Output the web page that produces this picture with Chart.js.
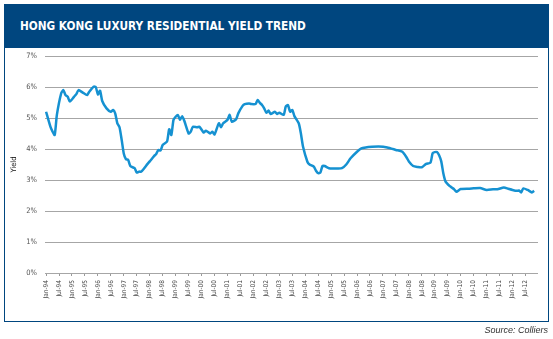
<!DOCTYPE html>
<html>
<head>
<meta charset="utf-8">
<script src="https://cdn.jsdelivr.net/npm/chart.js@4"></script>
<style>
  body { margin: 0; width: 553px; height: 339px; background: #fff; position: relative; overflow: hidden; }
  #frame { position: absolute; left: 4px; top: 4px; width: 545px; height: 318px; box-sizing: border-box; border: 1.5px solid #00467f; }
  #header { position: absolute; left: 4px; top: 4px; width: 545px; height: 44px; background: #00467f; }
  #header span { position: absolute; left: 16px; top: 0; color: #fff; white-space: nowrap;
    font: bold 13px "Liberation Sans Narrow", "DejaVu Sans Condensed", "Liberation Sans", sans-serif;
    line-height: 44px; transform: scaleX(0.9); transform-origin: left center; }
  #source { position: absolute; right: 5px; top: 325px; font: italic 9px "Liberation Sans", Arial, sans-serif; color: #333; }
  #grafica { position: absolute; left: 0; top: 0; }
</style>
</head>
<body>
<div id="frame"></div>
<div id="header"><span>HONG KONG LUXURY RESIDENTIAL YIELD TREND</span></div>
<canvas id="grafica" width="553" height="339"></canvas>
<div id="source">Source: Colliers</div>
<script>
// Meses contados desde Jan-94 (0 = Jan-94) y rendimiento en %
const meses = [
  0, 2, 3, 4, 5, 7, 8, 9, 10, 11, 13, 14, 15, 17, 19, 20, 22, 23, 24, 25,
  26, 28, 30, 31, 32, 33, 34, 35, 36, 37, 38, 39, 41, 42, 43, 44, 45, 47, 48, 50,
  51, 52, 53, 54, 56, 57, 58, 59, 60, 61, 62, 63, 64, 66, 67, 68, 70, 71, 73, 74,
  76, 77, 78, 80, 81, 82, 84, 85, 86, 88, 89, 91, 92, 94, 95, 97, 98, 99, 100, 101,
  102, 103, 104, 106, 107, 108, 110, 111, 112, 113, 114, 115, 117, 118, 119, 121, 122, 124, 125, 126,
  127, 128, 129, 131, 133, 135, 137, 139, 141, 144, 146, 148, 151, 154, 158, 162, 165, 167, 168, 170,
  172, 174, 176, 178, 179, 180, 181, 182, 183, 184, 185, 187, 188, 189, 190, 192, 196, 198, 201, 204,
  207, 209, 212, 214, 216, 218, 219, 220, 221, 223, 225, 226
];
const rendimiento = [
  5.2, 4.72, 4.56, 4.45, 5.1, 5.8, 5.9, 5.74, 5.69, 5.53, 5.69, 5.77, 5.9, 5.82, 5.74, 5.85, 6.01, 6.0, 5.76, 5.88,
  5.55, 5.31, 5.2, 5.26, 5.15, 4.83, 4.7, 4.3, 3.85, 3.67, 3.65, 3.45, 3.38, 3.24, 3.27, 3.27, 3.34, 3.52, 3.6, 3.77,
  3.84, 3.97, 3.95, 4.13, 4.24, 4.64, 4.45, 4.94, 5.04, 5.1, 4.94, 5.06, 4.91, 4.5, 4.56, 4.72, 4.7, 4.72, 4.53, 4.59,
  4.5, 4.56, 4.47, 4.83, 4.7, 4.83, 4.94, 5.1, 4.88, 4.96, 5.15, 5.39, 5.45, 5.47, 5.45, 5.45, 5.58, 5.49, 5.42, 5.31,
  5.17, 5.24, 5.13, 5.2, 5.13, 5.17, 5.1, 5.37, 5.42, 5.2, 5.26, 5.06, 4.83, 4.5, 4.07, 3.59, 3.5, 3.43, 3.3, 3.22,
  3.24, 3.45, 3.45, 3.38, 3.37, 3.37, 3.38, 3.5, 3.7, 3.91, 4.02, 4.05, 4.07, 4.08, 4.05, 3.97, 3.91, 3.72, 3.6, 3.45,
  3.42, 3.41, 3.52, 3.56, 3.86, 3.9, 3.9, 3.8, 3.6, 3.2, 2.95, 2.8, 2.75, 2.7, 2.62, 2.71, 2.72, 2.73, 2.74, 2.68,
  2.7, 2.7, 2.76, 2.72, 2.68, 2.65, 2.66, 2.6, 2.73, 2.68, 2.6, 2.65
];
// Etiquetas semestrales del eje X
const etiquetas = [
  "Jan-94", "Jul-94", "Jan-95", "Jul-95", "Jan-96", "Jul-96", "Jan-97", "Jul-97",
  "Jan-98", "Jul-98", "Jan-99", "Jul-99", "Jan-00", "Jul-00", "Jan-01", "Jul-01",
  "Jan-02", "Jul-02", "Jan-03", "Jul-03", "Jan-04", "Jul-04", "Jan-05", "Jul-05",
  "Jan-06", "Jul-06", "Jan-07", "Jul-07", "Jan-08", "Jul-08", "Jan-09", "Jul-09",
  "Jan-10", "Jul-10", "Jan-11", "Jul-11", "Jan-12", "Jul-12"
];

const puntos = meses.map((m, i) => ({ x: m, y: rendimiento[i] }));

const fuenteEstrecha = '"Liberation Sans Narrow", "DejaVu Sans Condensed", "Liberation Sans", sans-serif';

const config = {
  type: "line",
  data: {
    datasets: [
      {
        label: "Yield",
        data: puntos,
        borderColor: "#1591d1",
        borderWidth: 2.5,
        pointRadius: 0,
        tension: 0.2,
        fill: false,
      },
    ],
  },
  options: {
    responsive: false,
    animation: false,
    layout: { padding: { left: 0, top: 56, right: 15, bottom: 0 } },
    plugins: { legend: { display: false }, tooltip: { enabled: false } },
    scales: {
      x: {
        type: "linear",
        min: -0.5,
        max: 227.8,
        afterFit: (scale) => { scale.height = 66; },
        // un tick cada 6 meses
        afterBuildTicks: (scale) => {
          scale.ticks = etiquetas.map((e, i) => ({ value: i * 6 }));
        },
        grid: { drawOnChartArea: false, drawTicks: true, tickLength: 3, color: "#9a9a9a" },
        border: { display: false },
        ticks: {
          autoSkip: false,
          maxRotation: 90,
          minRotation: 90,
          padding: 4,
          color: "#444",
          font: { family: fuenteEstrecha, size: 6.5 },
          callback: (value, index) => etiquetas[index],
        },
      },
      y: {
        min: 0,
        max: 7,
        afterFit: (scale) => { scale.width = 45; },
        grid: { drawTicks: false, color: "#a6a6a6" },
        border: { display: false },
        ticks: {
          stepSize: 1,
          padding: 8,
          color: "#555",
          font: { family: fuenteEstrecha, size: 7.5 },
          callback: (v) => v + "%",
        },
        title: {
          display: true,
          text: "Yield",
          color: "#111",
          padding: { top: 10, bottom: 0 },
          font: { family: fuenteEstrecha, size: 7.5 },
        },
      },
    },
  },
};

const ctx = document.getElementById("grafica").getContext("2d");
new Chart(ctx, config);
</script>
</body>
</html>
